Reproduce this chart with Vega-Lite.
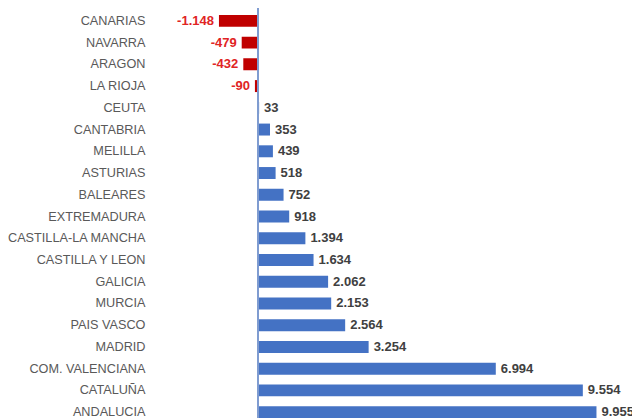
{
  "$schema": "https://vega.github.io/schema/vega-lite/v6.json",
  "autosize": {"type": "none"},
  "padding": {"left": 150, "top": 10, "right": 0, "bottom": 0},
  "width": 482,
  "height": 413,
  "background": "white",
  "config": {
    "view": {"stroke": null},
    "locale": {"number": {"decimal": ",", "thousands": ".", "grouping": [3], "currency": ["", "€"], "minus": "-"}}
  },
  "data": {"values": [
    {"region": "CANARIAS", "value": -1148},
    {"region": "NAVARRA", "value": -479},
    {"region": "ARAGON", "value": -432},
    {"region": "LA RIOJA", "value": -90},
    {"region": "CEUTA", "value": 33},
    {"region": "CANTABRIA", "value": 353},
    {"region": "MELILLA", "value": 439},
    {"region": "ASTURIAS", "value": 518},
    {"region": "BALEARES", "value": 752},
    {"region": "EXTREMADURA", "value": 918},
    {"region": "CASTILLA-LA MANCHA", "value": 1394},
    {"region": "CASTILLA Y LEON", "value": 1634},
    {"region": "GALICIA", "value": 2062},
    {"region": "MURCIA", "value": 2153},
    {"region": "PAIS VASCO", "value": 2564},
    {"region": "MADRID", "value": 3254},
    {"region": "COM. VALENCIANA", "value": 6994},
    {"region": "CATALUÑA", "value": 9554},
    {"region": "ANDALUCIA", "value": 9955}
  ]},
  "encoding": {
    "y": {
      "field": "region", "type": "nominal", "sort": null, "title": null,
      "scale": {"paddingInner": 0.45, "paddingOuter": 0.225},
      "axis": {"domain": false, "ticks": false, "labelPadding": 5, "labelFont": "Liberation Sans", "labelFontSize": 12.7, "labelColor": "#595959"}
    }
  },
  "layer": [
    {
      "mark": {"type": "bar"},
      "encoding": {
        "x": {"field": "value", "type": "quantitative", "scale": {"domain": [-3176, 11000], "nice": false, "zero": false}, "axis": null},
        "color": {"condition": {"test": "datum.value < 0", "value": "#C00000"}, "value": "#4472C4"}
      }
    },
    {
      "mark": {"type": "rule", "color": "#7F9CD0", "strokeWidth": 1},
      "encoding": {"x": {"datum": 0, "type": "quantitative"}, "y": {"value": -2}, "y2": {"value": 413}}
    },
    {
      "transform": [{"filter": "datum.value >= 0"}],
      "mark": {"type": "text", "align": "left", "dx": 5, "font": "Liberation Sans", "fontSize": 13, "fontWeight": "bold", "color": "#404040"},
      "encoding": {
        "x": {"field": "value", "type": "quantitative"},
        "text": {"field": "value", "type": "quantitative", "format": ",d"}
      }
    },
    {
      "transform": [{"filter": "datum.value < 0"}],
      "mark": {"type": "text", "align": "right", "dx": -5, "font": "Liberation Sans", "fontSize": 13, "fontWeight": "bold", "color": "#E02424"},
      "encoding": {
        "x": {"field": "value", "type": "quantitative"},
        "text": {"field": "value", "type": "quantitative", "format": ",d"}
      }
    }
  ]
}
